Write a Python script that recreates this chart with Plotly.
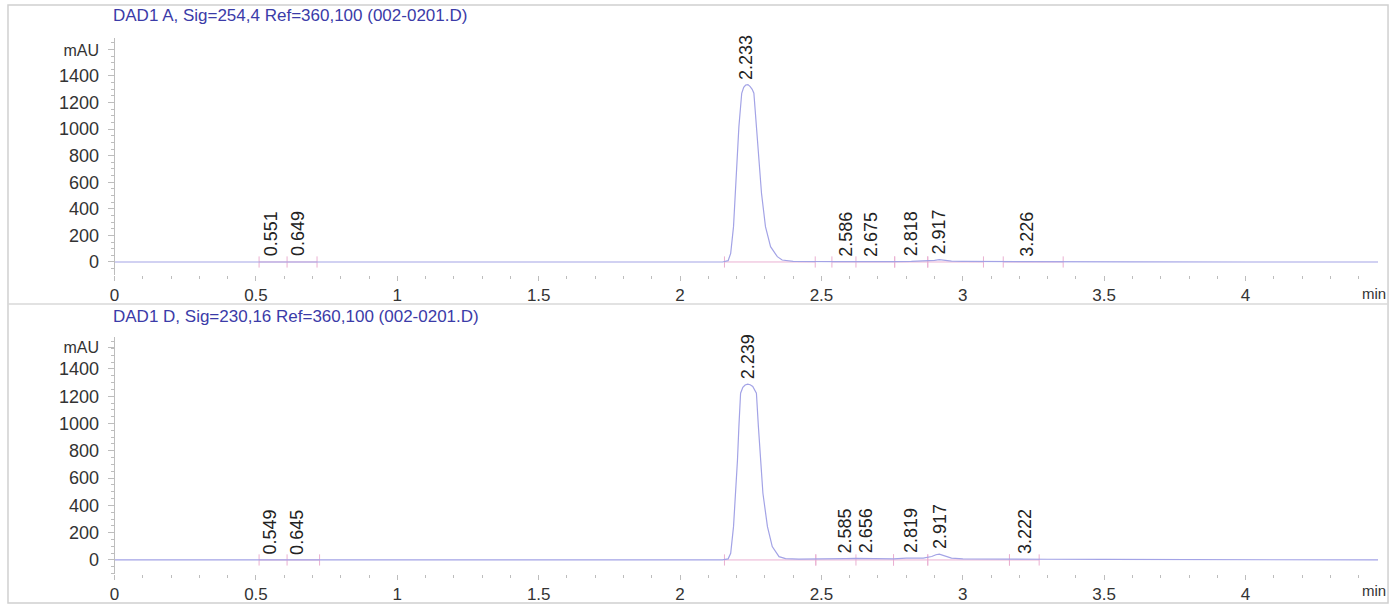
import plotly.graph_objects as go

# ---------------- data ----------------
# Signal A (DAD1 A, 254 nm): time [min], signal [mAU]
t_a = [0, 0.50, 0.53, 0.551, 0.58, 0.62, 0.649, 0.68, 0.72, 1.0, 1.5, 2.0, 2.15, 2.17,
       2.179, 2.189, 2.196, 2.201, 2.208, 2.218, 2.225, 2.232, 2.240, 2.248, 2.255, 2.261,
       2.270, 2.279, 2.288, 2.302, 2.320, 2.344, 2.361, 2.40, 2.45, 2.55, 2.586, 2.62,
       2.675, 2.75, 2.818, 2.87, 2.90, 2.917, 2.935, 2.96, 3.0, 3.1, 3.226, 3.35, 3.6,
       4.0, 4.469]
v_a = [0, 0, 3, 5, 2, 2, 4, 2, 0, 0, 0, 0, 0, 10,
       65, 266, 517, 768, 1018, 1270, 1315, 1332, 1335, 1320, 1300, 1270,
       1018, 768, 517, 266, 115, 40, 15, 4, 2, 2, 3, 2,
       3, 3, 4, 6, 12, 18, 12, 6, 4, 3, 4, 2, 1,
       0, 0]

# Signal D (DAD1 D, 230 nm)
t_d = [0, 0.50, 0.53, 0.549, 0.58, 0.62, 0.645, 0.68, 0.73, 1.0, 1.5, 2.0, 2.15, 2.17,
       2.179, 2.189, 2.197, 2.203, 2.208, 2.214, 2.222, 2.230, 2.239, 2.248, 2.257, 2.264,
       2.270, 2.277, 2.285, 2.293, 2.309, 2.326, 2.350, 2.373, 2.42, 2.48, 2.55, 2.585,
       2.62, 2.656, 2.70, 2.755, 2.80, 2.819, 2.86, 2.89, 2.905, 2.917, 2.935, 2.96, 3.0,
       3.1, 3.222, 3.3, 3.5, 3.85, 4.0, 4.469]
v_d = [0, 0, 3, 5, 2, 2, 4, 2, 0, 0, 0, 0, 0, 8,
       49, 244, 489, 733, 977, 1222, 1265, 1282, 1288, 1284, 1272, 1250,
       1222, 977, 733, 489, 244, 98, 24, 10, 6, 6, 8, 10,
       12, 12, 10, 8, 14, 15, 14, 25, 38, 42, 30, 14, 8,
       6, 8, 5, 4, 3, 1, 0]

# Peak tables (retention time, apex height)
rt_a = [0.551, 0.649, 2.233, 2.586, 2.675, 2.818, 2.917, 3.226]
h_a = [5, 4, 1335, 3, 3, 4, 18, 4]
rt_d = [0.549, 0.645, 2.239, 2.585, 2.656, 2.819, 2.917, 3.222]
h_d = [5, 4, 1288, 10, 12, 15, 42, 8]

# Integration event marks (baseline start/end times)
marks_a = [[0.511, 0.61, 0.716], [2.157, 2.478], [2.537, 2.622, 2.759], [2.759, 2.876],
           [2.876, 3.073], [3.143, 3.355]]
marks_d = [[0.511, 0.61, 0.725], [2.157, 2.48], [2.48, 2.622, 2.755], [2.755, 2.876],
           [2.876, 3.165], [3.165, 3.27]]

title_a = "DAD1 A, Sig=254,4 Ref=360,100 (002-0201.D)"
title_d = "DAD1 D, Sig=230,16 Ref=360,100 (002-0201.D)"

x_ticks = [0, 0.5, 1, 1.5, 2, 2.5, 3, 3.5, 4]
x_ticktext = ["0", "0.5", "1", "1.5", "2", "2.5", "3", "3.5", "4"]
y_ticks = [0, 200, 400, 600, 800, 1000, 1200, 1400]

# ---------------- figure ----------------
W, H = 1398, 606
TRACE = "#a3a3e6"
PINK = "#eab0d2"
TITLE = "#3b3ba8"
TXT = "#333333"
AXC = "#bdbdbd"
FONT = "Liberation Sans, Arial, sans-serif"

fig = go.Figure()

def add_marks(marks, xa, ya):
    xs, ys = [], []
    for seg in marks:
        xs += seg + [None]
        ys += [0] * len(seg) + [None]
    fig.add_trace(go.Scatter(x=xs, y=ys, xaxis=xa, yaxis=ya, mode="lines+markers",
                             line=dict(color=PINK, width=1),
                             marker=dict(symbol="line-ns", size=8,
                                         line=dict(color=PINK, width=1)),
                             hoverinfo="skip", showlegend=False))

add_marks(marks_a, "x", "y")
fig.add_trace(go.Scatter(x=t_a, y=v_a, xaxis="x", yaxis="y", mode="lines",
                         line=dict(color=TRACE, width=1.2), showlegend=False))
add_marks(marks_d, "x2", "y2")
fig.add_trace(go.Scatter(x=t_d, y=v_d, xaxis="x2", yaxis="y2", mode="lines",
                         line=dict(color=TRACE, width=1.2), showlegend=False))

annotations = []
for rt, h in zip(rt_a, h_a):
    annotations.append(dict(x=rt, y=h, xref="x", yref="y", text=f"{rt:.3f}",
                            textangle=-90, showarrow=False, xanchor="center",
                            yanchor="bottom", yshift=3,
                            font=dict(family=FONT, size=18, color="#222222")))
for rt, h in zip(rt_d, h_d):
    annotations.append(dict(x=rt, y=h, xref="x2", yref="y2", text=f"{rt:.3f}",
                            textangle=-90, showarrow=False, xanchor="center",
                            yanchor="bottom", yshift=3,
                            font=dict(family=FONT, size=18, color="#222222")))

# titles
annotations.append(dict(x=106 / W, y=1 - 15 / H, xref="paper", yref="paper", text=title_a,
                        showarrow=False, xanchor="left", yanchor="middle",
                        font=dict(family=FONT, size=17, color=TITLE)))
annotations.append(dict(x=106 / W, y=1 - 316 / H, xref="paper", yref="paper", text=title_d,
                        showarrow=False, xanchor="left", yanchor="middle",
                        font=dict(family=FONT, size=17, color=TITLE)))
# unit labels
for yy in (293, 590):
    annotations.append(dict(x=1388 / W, y=1 - yy / H, xref="paper", yref="paper", text="min",
                            showarrow=False, xanchor="right", yanchor="middle",
                            font=dict(family=FONT, size=15, color=TXT)))

xdom = [110 / W, 1378 / W]
xr = [0, 4.4687]

def xaxis(anchor):
    return dict(domain=xdom, range=xr, anchor=anchor, tickvals=x_ticks, ticktext=x_ticktext,
                ticks="outside", ticklen=5, tickcolor=AXC, showline=False, showgrid=False,
                zeroline=False, tickfont=dict(family=FONT, size=17, color=TXT),
                minor=dict(dtick=0.1, tick0=0, ticks="outside", ticklen=3, tickcolor=AXC,
                           showgrid=False))

def yaxis(anchor, dom, rng, mau):
    return dict(domain=dom, range=rng, anchor=anchor,
                tickvals=y_ticks + [mau],
                ticktext=[str(v) for v in y_ticks] + ['<span style="font-size:16px">mAU</span>'],
                ticks="outside", ticklen=6, tickcolor=AXC, showline=True, linecolor=AXC,
                linewidth=1, showgrid=False, zeroline=False, ticklabelstandoff=5,
                tickfont=dict(family=FONT, size=18, color=TXT),
                minor=dict(dtick=50, tick0=0, ticks="outside", ticklen=3, tickcolor=AXC,
                           showgrid=False))

shapes = [
    dict(type="rect", xref="paper", yref="paper", x0=3 / W, x1=1388 / W,
         y0=1 - 603 / H, y1=1 - 5 / H, line=dict(color="#d0d0d0", width=1.5)),
    dict(type="line", xref="paper", yref="paper", x0=3 / W, x1=1388 / W,
         y0=1 - 304 / H, y1=1 - 304 / H, line=dict(color="#d8d8d8", width=1.5)),
]

fig.update_layout(
    width=W, height=H, margin=dict(l=0, r=0, t=0, b=0),
    paper_bgcolor="white", plot_bgcolor="white",
    xaxis=xaxis("y"),
    yaxis=yaxis("x", [1 - 275 / H, 1 - 38 / H], [-98, 1686], 1600),
    xaxis2=xaxis("y2"),
    yaxis2=yaxis("x2", [1 - 574 / H, 1 - 337 / H], [-103, 1634], 1560),
    annotations=annotations, shapes=shapes, showlegend=False,
)

fig.write_html("out.html")
